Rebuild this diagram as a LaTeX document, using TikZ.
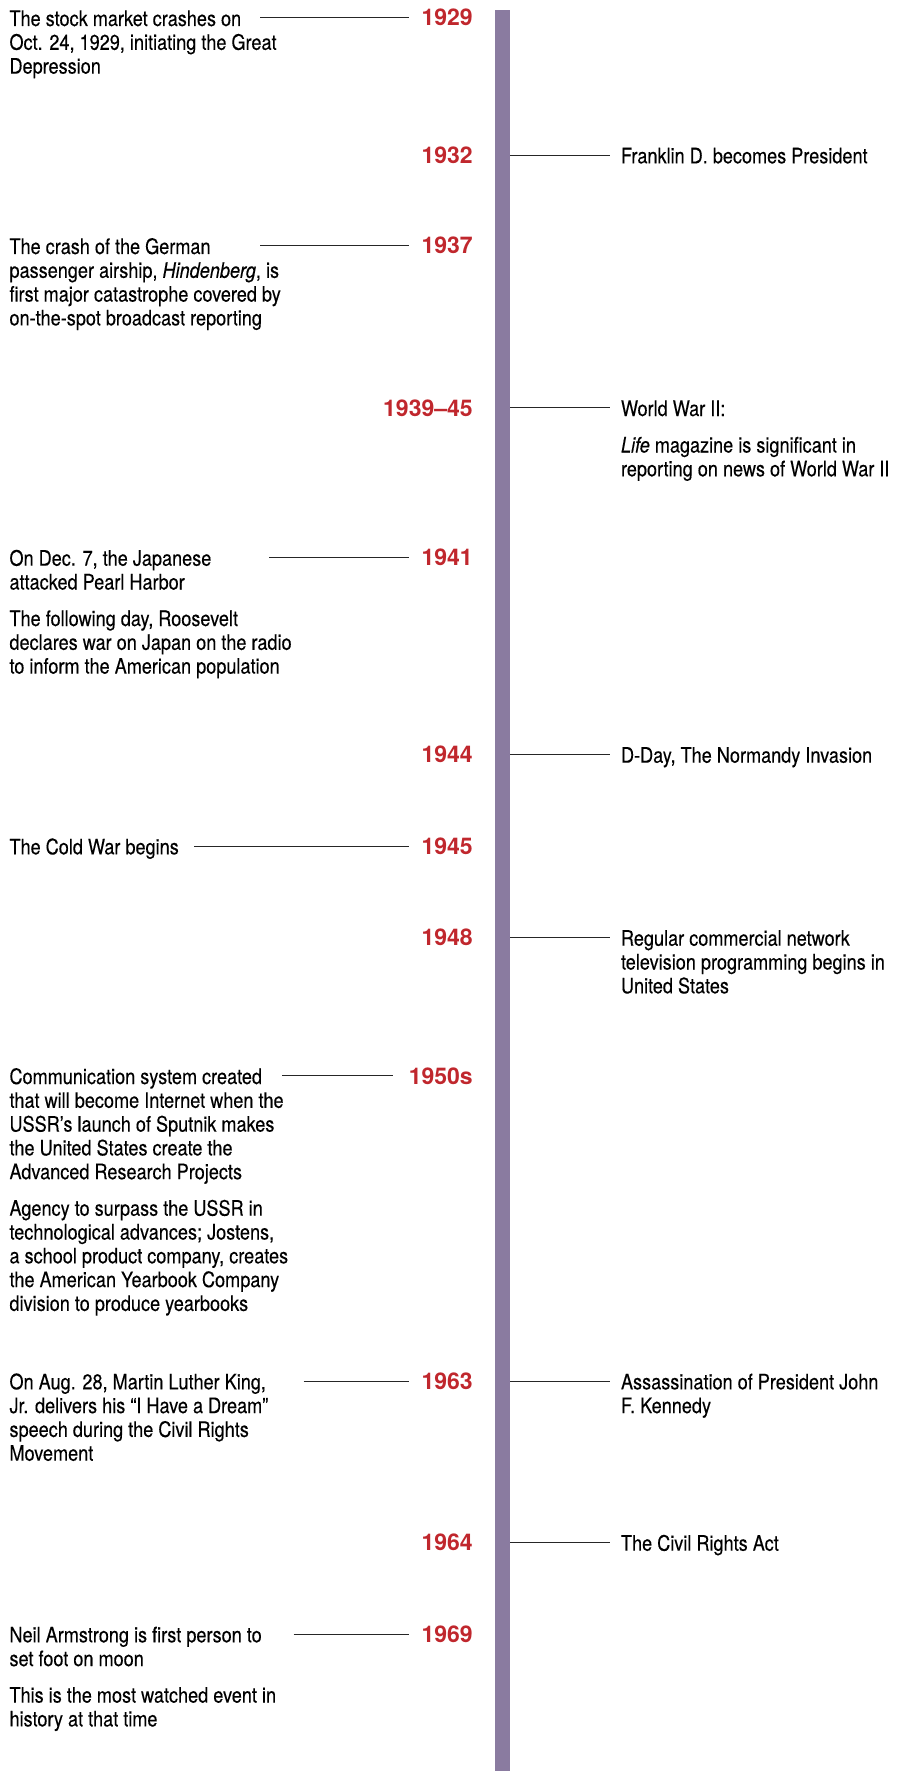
\documentclass[tikz,border=0pt]{standalone}
\usepackage{fontspec}
\setmainfont{TeX Gyre Heros}[FakeStretch=0.85,FakeBold=0.25]
\newfontfamily\yearfont{TeX Gyre Heros}
\definecolor{barcol}{RGB}{138,123,160}
\definecolor{yearred}{RGB}{192,39,45}
\newcommand{\evtext}[1]{\parbox[t]{330pt}{\raggedright\fontsize{21.3pt}{23.8pt}\selectfont #1}}
\newcommand{\pgap}{\\[12.7pt]}
\begin{document}
\begin{tikzpicture}[x=1pt,y=1pt,
  yearlbl/.style={anchor=base east, inner sep=0pt, outer sep=0pt, text=yearred,
    font=\yearfont\bfseries\fontsize{23pt}{25pt}\selectfont},
  evnode/.style={anchor=base west, inner sep=0pt, outer sep=0pt, text=black},
  conn/.style={draw=black!85, line width=0.9pt},
  lconn/.style={conn, shorten >=12.5pt},
  rconn/.style={conn, shorten >=11pt}]
\useasboundingbox (0,0) rectangle (899,-1771);
% timeline bar
\node[fill=barcol, inner sep=0pt, outer sep=0pt, minimum width=15pt, minimum height=1761pt, anchor=north west] (bar) at (495,-10) {};

% years
\node[yearlbl] (y1929) at (472.7,-26) {1929};
\node[yearlbl] (y1932) at (472.7,-163.3) {1932};
\node[yearlbl] (y1937) at (472.7,-254) {1937};
\node[yearlbl] (y1939) at (472.7,-416) {1939–45};
\node[yearlbl] (y1941) at (472.7,-565.7) {1941};
\node[yearlbl] (y1944) at (472.7,-762.7) {1944};
\node[yearlbl] (y1945) at (472.7,-854.3) {1945};
\node[yearlbl] (y1948) at (472.7,-945.7) {1948};
\node[yearlbl] (y1950) at (472.7,-1084) {1950s};
\node[yearlbl] (y1963) at (472.7,-1389.3) {1963};
\node[yearlbl] (y1964) at (472.7,-1550.7) {1964};
\node[yearlbl] (y1969) at (472.7,-1642.3) {1969};

% left events
\node[evnode] (t1929) at (9.5,-26) {\evtext{The stock market crashes on\\Oct. 24, 1929, initiating the Great\\Depression}};
\node[evnode] (t1937) at (9.5,-254) {\evtext{The crash of the German\\passenger airship, \textit{Hindenberg}, is\\first major catastrophe covered by\\on-the-spot broadcast reporting}};
\node[evnode] (t1941) at (9.5,-565.7) {\evtext{On Dec. 7, the Japanese\\attacked Pearl Harbor\pgap The following day, Roosevelt\\declares war on Japan on the radio\\to inform the American population}};
\node[evnode] (t1945) at (9.5,-854.3) {\evtext{The Cold War begins}};
\node[evnode] (t1950) at (9.5,-1084) {\evtext{Communication system created\\that will become Internet when the\\USSR’s launch of Sputnik makes\\the United States create the\\Advanced Research Projects\pgap Agency to surpass the USSR in\\technological advances; Jostens,\\a school product company, creates\\the American Yearbook Company\\division to produce yearbooks}};
\node[evnode] (t1963) at (9.5,-1389.3) {\evtext{On Aug. 28, Martin Luther King,\\Jr. delivers his “I Have a Dream”\\speech during the Civil Rights\\Movement}};
\node[evnode] (t1969) at (9.5,-1642.3) {\evtext{Neil Armstrong is first person to\\set foot on moon\pgap This is the most watched event in\\history at that time}};

% right events
\node[evnode] (r1932) at (621,-163.3) {\evtext{Franklin D. becomes President}};
\node[evnode] (r1939) at (621,-416) {\evtext{World War II:\pgap\textit{Life} magazine is significant in\\reporting on news of World War II}};
\node[evnode] (r1944) at (621,-762.7) {\evtext{D-Day, The Normandy Invasion}};
\node[evnode] (r1948) at (621,-945.7) {\evtext{Regular commercial network\\television programming begins in\\United States}};
\node[evnode] (r1963) at (621,-1389.3) {\evtext{Assassination of President John\\F. Kennedy}};
\node[evnode] (r1964) at (621,-1550.7) {\evtext{The Civil Rights Act}};

% left connector start points
\coordinate (s1929) at (260,0);
\coordinate (s1937) at (260,0);
\coordinate (s1941) at (269,0);
\coordinate (s1945) at (194,0);
\coordinate (s1950) at (282,0);
\coordinate (s1963) at (303.5,0);
\coordinate (s1969) at (293.5,0);

\draw[lconn] (s1929 |- y1929) -- (y1929.west);
\draw[lconn] (s1937 |- y1937) -- (y1937.west);
\draw[lconn] (s1941 |- y1941) -- (y1941.west);
\draw[lconn] (s1945 |- y1945) -- (y1945.west);
\draw[conn, shorten >=16pt] (s1950 |- y1950) -- (y1950.west);
\draw[lconn] (s1963 |- y1963) -- (y1963.west);
\draw[lconn] (s1969 |- y1969) -- (y1969.west);

% right connectors
\draw[rconn] (bar.east |- y1932) -- (r1932.west |- y1932);
\draw[rconn] (bar.east |- y1939) -- (r1939.west |- y1939);
\draw[rconn] (bar.east |- y1944) -- (r1944.west |- y1944);
\draw[rconn] (bar.east |- y1948) -- (r1948.west |- y1948);
\draw[rconn] (bar.east |- y1963) -- (r1963.west |- y1963);
\draw[rconn] (bar.east |- y1964) -- (r1964.west |- y1964);
\end{tikzpicture}
\end{document}
